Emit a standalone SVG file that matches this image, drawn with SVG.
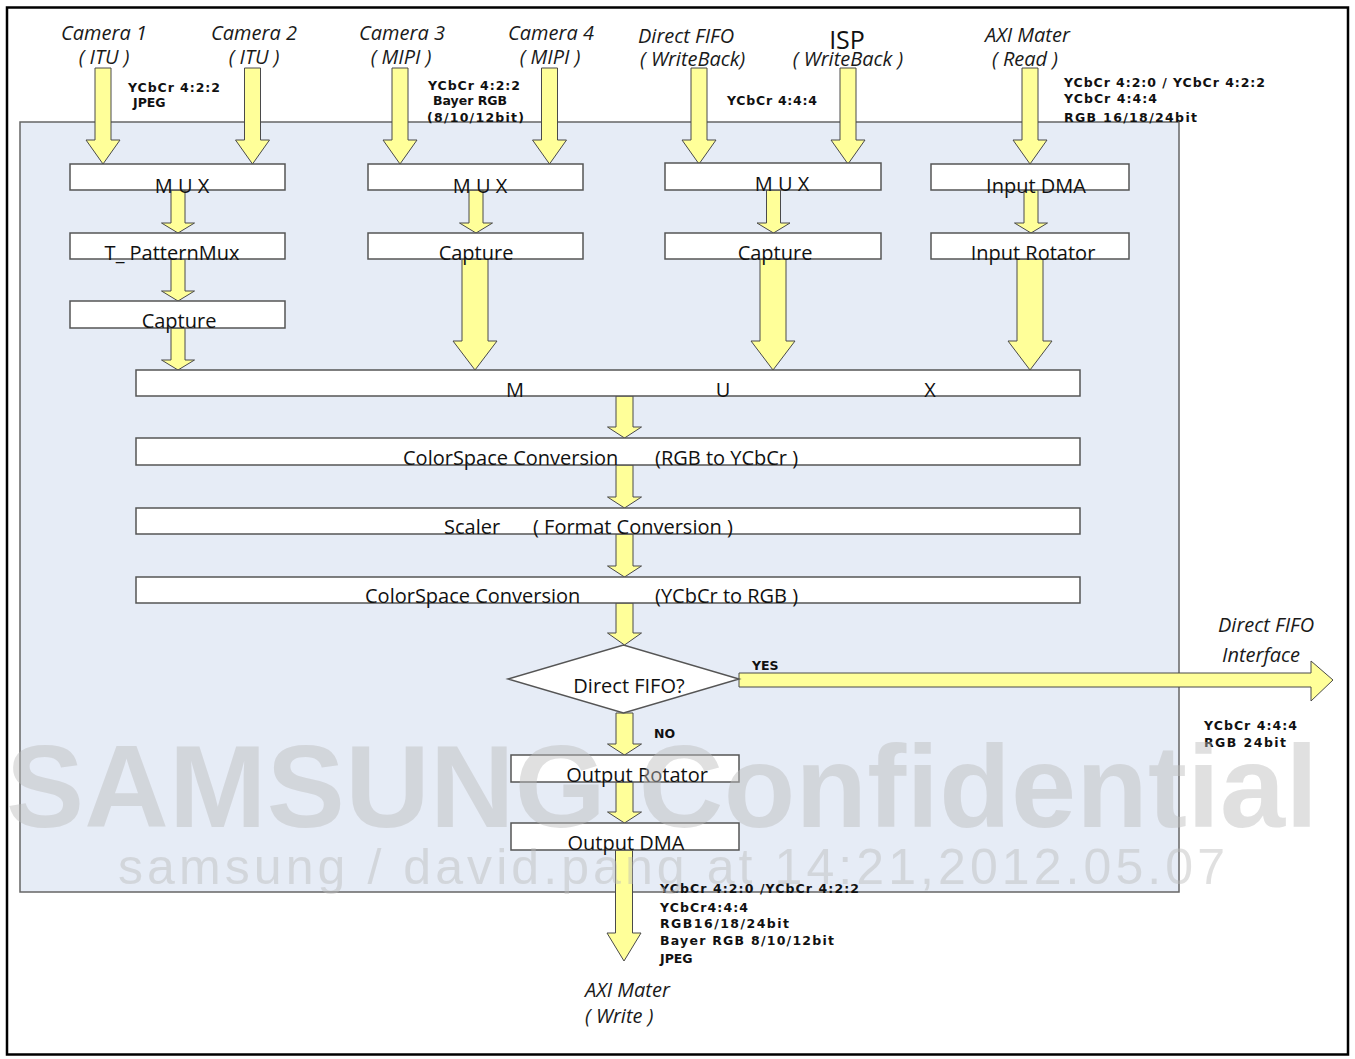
<svg xmlns="http://www.w3.org/2000/svg" width="1355" height="1059" viewBox="0 0 1355 1059">
<style>
.box{fill:#fff;stroke:#555;stroke-width:1.5}
.arr{fill:#FFFF99;stroke:#4a4a4a;stroke-width:1}
.lbl{font-family:"Open Sans","Noto Sans",sans-serif;font-size:20px;fill:#111}
.it{font-family:"Open Sans","Noto Sans",sans-serif;font-size:20px;font-style:italic;fill:#1a1a1a}
.ann{font-family:"DejaVu Sans","Noto Sans",sans-serif;font-size:12.5px;font-weight:bold;fill:#111}
.wm{font-family:"Liberation Sans",Arial,sans-serif;fill:#bcbcbc;opacity:0.45}
</style>
<rect x="0" y="0" width="1355" height="1059" fill="#fff"/>
<rect x="7" y="7.5" width="1341" height="1047" fill="none" stroke="#000" stroke-width="2.5"/>
<rect id="container" x="20" y="122" width="1159" height="770" fill="#E6ECF6" stroke="#666" stroke-width="1.5"/>

<g id="connectors">
  <path class="arr" d="M95,68 H111 V140 H120 L103,164 L86,140 H95 Z"/>
  <path class="arr" d="M244.5,68 H260.5 V140 H269.5 L252.5,164 L235.5,140 H244.5 Z"/>
  <path class="arr" d="M392,68 H408 V140 H417 L400,164 L383,140 H392 Z"/>
  <path class="arr" d="M541.5,68 H557.5 V140 H566.5 L549.5,164 L532.5,140 H541.5 Z"/>
  <path class="arr" d="M691,68 H707 V140 H716 L699,164 L682,140 H691 Z"/>
  <path class="arr" d="M840,68 H856 V140 H865 L848,164 L831,140 H840 Z"/>
  <path class="arr" d="M1022,68 H1038 V140 H1047 L1030,164 L1013,140 H1022 Z"/>
  <path class="arr" d="M171,190 H185 V223 H194.5 L178,233 L161.5,223 H171 Z"/>
  <path class="arr" d="M171,259 H185 V291 H194.5 L178,301 L161.5,291 H171 Z"/>
  <path class="arr" d="M171,328 H185 V360 H194.5 L178,370 L161.5,360 H171 Z"/>
  <path class="arr" d="M469,190 H483 V223 H492.5 L476,233 L459.5,223 H469 Z"/>
  <path class="arr" d="M462,259 H488 V341 H497 L475,370 L453,341 H462 Z"/>
  <path class="arr" d="M766.5,190 H780.5 V223 H790 L773.5,233 L757,223 H766.5 Z"/>
  <path class="arr" d="M760,259 H786 V341 H795 L773,370 L751,341 H760 Z"/>
  <path class="arr" d="M1024,190 H1038 V223 H1047.5 L1031,233 L1014.5,223 H1024 Z"/>
  <path class="arr" d="M1017,259 H1043 V341 H1052 L1030,370 L1008,341 H1017 Z"/>
  <path class="arr" d="M616,396 H633 V427 H641.5 L624.5,438 L607.5,427 H616 Z"/>
  <path class="arr" d="M616,465 H633 V497 H641.5 L624.5,508 L607.5,497 H616 Z"/>
  <path class="arr" d="M616,534 H633 V566 H641.5 L624.5,577 L607.5,566 H616 Z"/>
  <path class="arr" d="M616,603 H633 V633 H641.5 L624.5,645 L607.5,633 H616 Z"/>
  <path class="arr" d="M616,713 H633 V744 H641.5 L624.5,755 L607.5,744 H616 Z"/>
  <path class="arr" d="M616,782 H633 V812 H641.5 L624.5,823 L607.5,812 H616 Z"/>
  <path class="arr" d="M615.5,850 H632.5 V933 H641 L624,961 L607,933 H615.5 Z"/>
  <path class="arr" d="M739,673 H1311 V661 L1333,680 L1311,701 V687 H739 Z"/>
</g>

<g id="mux1"><rect class="box" x="70" y="164" width="215" height="26"/><text class="lbl" x="182" y="193" text-anchor="middle">M U X</text></g>
<g id="tpattern"><rect class="box" x="70" y="233" width="215" height="26"/><text class="lbl" x="172" y="260" text-anchor="middle">T_ PatternMux</text></g>
<g id="capture1"><rect class="box" x="70" y="301" width="215" height="27"/><text class="lbl" x="179" y="328" text-anchor="middle">Capture</text></g>
<g id="mux2"><rect class="box" x="368" y="164" width="215" height="26"/><text class="lbl" x="480" y="193" text-anchor="middle">M U X</text></g>
<g id="capture2"><rect class="box" x="368" y="233" width="215" height="26"/><text class="lbl" x="476" y="260" text-anchor="middle">Capture</text></g>
<g id="mux3"><rect class="box" x="665" y="163" width="216" height="27"/><text class="lbl" x="782" y="191" text-anchor="middle">M U X</text></g>
<g id="capture3"><rect class="box" x="665" y="233" width="216" height="26"/><text class="lbl" x="775" y="260" text-anchor="middle">Capture</text></g>
<g id="inputdma"><rect class="box" x="931" y="164" width="198" height="26"/><text class="lbl" x="1036" y="193" text-anchor="middle">Input DMA</text></g>
<g id="inputrot"><rect class="box" x="931" y="233" width="198" height="26"/><text class="lbl" x="1033" y="260" text-anchor="middle">Input Rotator</text></g>
<g id="bigmux"><rect class="box" x="136" y="370" width="944" height="26"/>
  <text class="lbl" x="515" y="397" text-anchor="middle">M</text><text class="lbl" x="723" y="397" text-anchor="middle">U</text><text class="lbl" x="930" y="397" text-anchor="middle">X</text></g>
<g id="csc1"><rect class="box" x="136" y="438" width="944" height="27"/>
  <text class="lbl" x="403" y="465">ColorSpace Conversion</text><text class="lbl" x="655" y="465">(RGB to YCbCr )</text></g>
<g id="scaler"><rect class="box" x="136" y="508" width="944" height="26"/>
  <text class="lbl" x="444" y="534">Scaler</text><text class="lbl" x="533" y="534">( Format Conversion )</text></g>
<g id="csc2"><rect class="box" x="136" y="577" width="944" height="26"/>
  <text class="lbl" x="365" y="603">ColorSpace Conversion</text><text class="lbl" x="655" y="603">(YCbCr to RGB )</text></g>
<g id="decision"><polygon class="box" points="508,679 623.5,645 739,679 623.5,713"/><text class="lbl" x="629" y="693" text-anchor="middle">Direct FIFO?</text></g>
<g id="outrot"><rect class="box" x="511" y="755" width="228" height="27"/><text class="lbl" x="637" y="782" text-anchor="middle">Output Rotator</text></g>
<g id="outdma"><rect class="box" x="511" y="823" width="228" height="27"/><text class="lbl" x="626" y="850" text-anchor="middle">Output DMA</text></g>

<g id="sources">
  <text class="it" x="104" y="40" text-anchor="middle">Camera 1</text><text class="it" x="104" y="64" text-anchor="middle">( ITU )</text>
  <text class="it" x="254" y="40" text-anchor="middle">Camera 2</text><text class="it" x="254" y="64" text-anchor="middle">( ITU )</text>
  <text class="it" x="402" y="40" text-anchor="middle">Camera 3</text><text class="it" x="401" y="64" text-anchor="middle">( MIPI )</text>
  <text class="it" x="551" y="40" text-anchor="middle">Camera 4</text><text class="it" x="550" y="64" text-anchor="middle">( MIPI )</text>
  <text class="it" x="638" y="43">Direct FIFO</text><text class="it" x="640" y="66">( WriteBack)</text>
  <text class="lbl" x="847" y="49" text-anchor="middle" style="font-size:25px">ISP</text><text class="it" x="848" y="66" text-anchor="middle">( WriteBack )</text>
  <text class="it" x="985" y="42">AXI Mater</text><text class="it" x="992" y="66">( Read )</text>
  <text class="it" x="1218" y="632">Direct FIFO</text><text class="it" x="1222" y="662">Interface</text>
  <text class="it" x="585" y="997">AXI Mater</text><text class="it" x="585" y="1023">( Write )</text>
</g>

<g id="annotations">
  <text class="ann" x="128" y="92" textLength="92">YCbCr 4:2:2</text>
  <text class="ann" x="133" y="107">JPEG</text>
  <text class="ann" x="428" y="90" textLength="92">YCbCr 4:2:2</text>
  <text class="ann" x="433" y="105">Bayer RGB</text>
  <text class="ann" x="427" y="122" textLength="97">(8/10/12bit)</text>
  <text class="ann" x="727" y="105" textLength="90">YCbCr 4:4:4</text>
  <text class="ann" x="1064" y="87" textLength="201">YCbCr 4:2:0 / YCbCr 4:2:2</text>
  <text class="ann" x="1064" y="103" textLength="93">YCbCr 4:4:4</text>
  <text class="ann" x="1064" y="122" textLength="133">RGB 16/18/24bit</text>
  <text class="ann" x="752" y="670">YES</text>
  <text class="ann" x="654" y="738">NO</text>
  <text class="ann" x="1204" y="730" textLength="93">YCbCr 4:4:4</text>
  <text class="ann" x="1204" y="747" textLength="82">RGB 24bit</text>
  <text class="ann" x="660" y="893" textLength="199">YCbCr 4:2:0 /YCbCr 4:2:2</text>
  <text class="ann" x="660" y="912" textLength="88">YCbCr4:4:4</text>
  <text class="ann" x="660" y="928" textLength="129">RGB16/18/24bit</text>
  <text class="ann" x="660" y="945" textLength="174">Bayer RGB 8/10/12bit</text>
  <text class="ann" x="660" y="963">JPEG</text>
</g>

<g id="watermark">
  <text class="wm" x="6" y="827" font-size="117" font-weight="bold" textLength="1312">SAMSUNG Confidential</text>
  <text class="wm" x="118" y="884" font-size="50" textLength="1107">samsung / david.pang at 14:21,2012.05.07</text>
</g>
</svg>
